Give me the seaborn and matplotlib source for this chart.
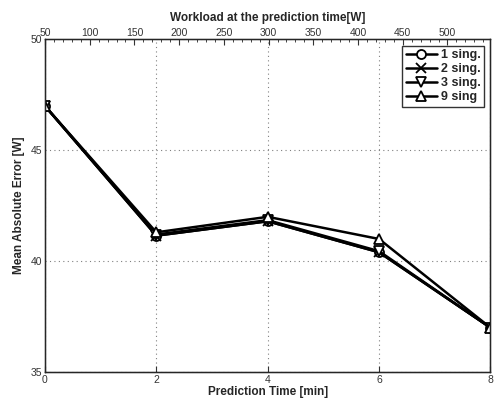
import matplotlib
matplotlib.use("Agg")
import matplotlib.pyplot as plt
import seaborn as sns
import pandas as pd
from matplotlib.ticker import MultipleLocator

sns.set_style("white")
plt.rcParams['font.family'] = ['Liberation Sans', 'DejaVu Sans']

pred_time = [0, 2, 4, 6, 8]
sing1 = [47.0, 41.15, 41.8, 40.4, 37.0]
sing2 = [47.0, 41.15, 41.8, 40.4, 37.0]
sing3 = [47.0, 41.2, 41.85, 40.45, 37.0]
sing9 = [47.0, 41.3, 42.0, 41.0, 37.0]
labels = ["1 sing.", "2 sing.", "3 sing.", "9 sing"]
markers = ["o", "x", "v", "^"]
top_ticks = [50, 100, 150, 200, 250, 300, 350, 400, 450, 500]

fig = plt.figure(figsize=(4.96, 4.03), dpi=100)
ax = fig.add_axes([0.0907, 0.077, 0.898, 0.825])

for vals, lab, m in zip([sing1, sing2, sing3, sing9], labels, markers):
    df = pd.DataFrame({"t": pred_time, "v": vals})
    sns.lineplot(data=df, x="t", y="v", ax=ax, color="black", linewidth=1.8,
                 marker=m, markersize=6.5, markerfacecolor="white",
                 markeredgecolor="black", markeredgewidth=1.3, label=lab)

ax.set_xlim(0, 8)
ax.set_ylim(35, 50)
ax.set_xticks([0, 2, 4, 6, 8])
ax.set_yticks([35, 40, 45, 50])
ax.grid(True, linestyle=(0, (1, 3)), color="gray", linewidth=0.8)
ax.tick_params(labelsize=7.5, direction="in", length=4, pad=2, colors="#333333")
ax.set_xlabel("Prediction Time [min]", fontsize=8.5, fontweight="bold", labelpad=1)
ax.set_ylabel("Mean Absolute Error [W]", fontsize=8.5, fontweight="bold", labelpad=4)
for s in ax.spines.values():
    s.set_color("black")
    s.set_linewidth(1)

leg = ax.legend(loc="upper right", frameon=True, fancybox=False,
                edgecolor="black", handlelength=2.5, borderpad=0.3,
                labelspacing=0.15, handletextpad=0.3, borderaxespad=0.5,
                prop={"weight": "bold", "size": 9})
leg.get_frame().set_linewidth(1)

ax2 = ax.twiny()
ax2.set_xlim(50, 548)
ax2.set_xticks(top_ticks)
ax2.xaxis.set_minor_locator(MultipleLocator(10))
ax2.tick_params(which="major", labelsize=7.5, direction="in", length=4, pad=1, colors="#333333")
ax2.tick_params(which="minor", direction="in", length=2)
ax2.set_xlabel("Workload at the prediction time[W]", fontsize=8.5, fontweight="bold", labelpad=5)

fig.savefig("out.png", dpi=100)
